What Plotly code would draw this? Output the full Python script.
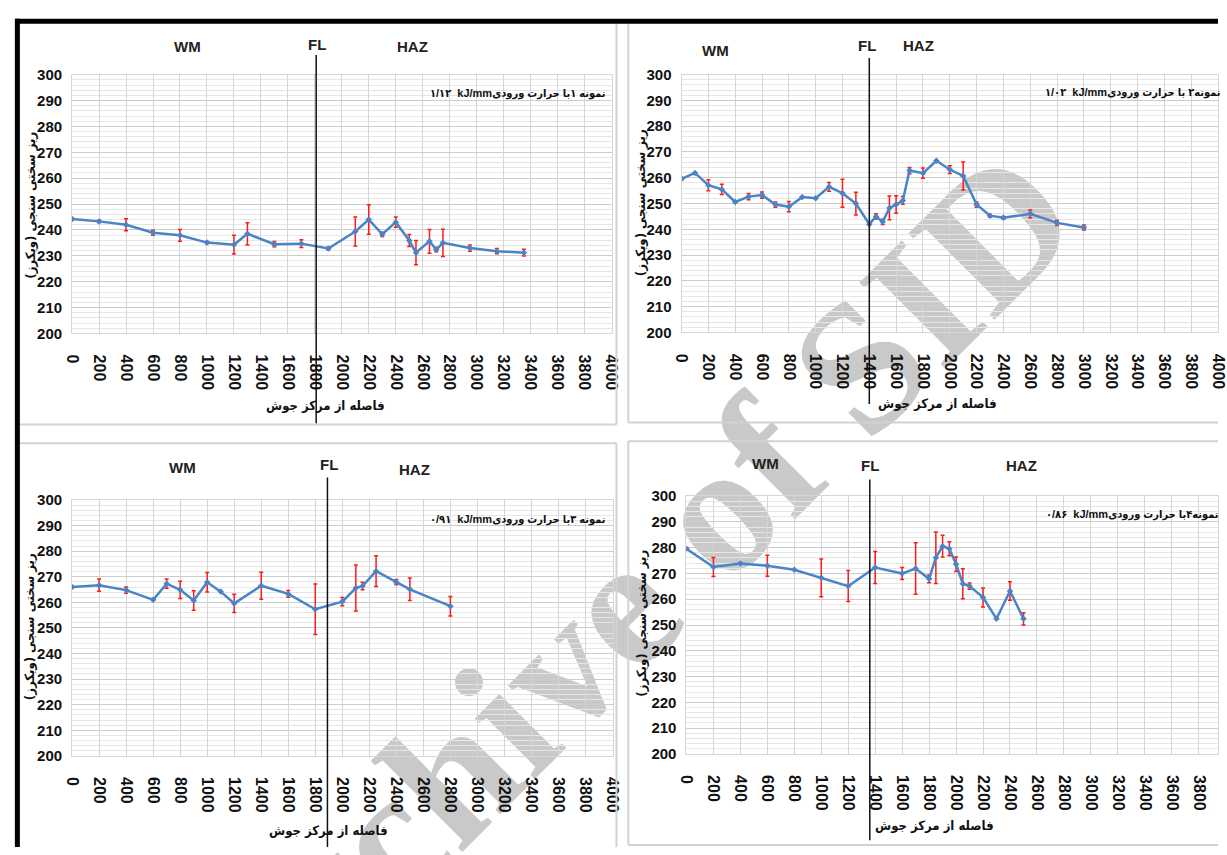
import plotly.graph_objects as go

W, H = 1227, 855

# ---------------- data ----------------
x_ticks = list(range(0, 4001, 200))
y_ticks = list(range(200, 301, 10))

p1_x = [0, 200, 400, 600, 800, 1000, 1200, 1300, 1500, 1700, 1900, 2100, 2200, 2300, 2400, 2500, 2550, 2650, 2700, 2750, 2950, 3150, 3350]
p1_y = [244.2, 243.3, 242, 238.9, 237.9, 235.1, 234.3, 238.5, 234.5, 234.7, 232.8, 239.4, 244, 238.3, 243, 235.9, 231.2, 235.6, 232.4, 235, 233, 231.8, 231.2]
p1_e = [0.4, 0.4, 2.3, 1, 2.3, 0.4, 3.6, 4.3, 1, 1.5, 0.5, 5.6, 5.7, 0.8, 2, 2.3, 4.7, 4.6, 0.8, 5.3, 1.2, 1, 1.3]

p2_x = [0, 100, 200, 300, 400, 500, 600, 700, 800, 900, 1000, 1100, 1200, 1300, 1400, 1450, 1500, 1550, 1600, 1650, 1700, 1800, 1900, 2000, 2100, 2200, 2300, 2400, 2600, 2800, 3000]
p2_y = [259.6, 261.9, 257.1, 255.5, 250.6, 252.7, 253.3, 249.6, 248.8, 252.5, 252.1, 256.5, 254, 250, 242, 245, 242.9, 248.3, 249.6, 251.2, 262.8, 261.8, 266.6, 263.2, 260.7, 249.6, 245.3, 244.5, 246, 242.5, 240.7]
p2_e = [0.5, 0, 2.1, 2, 0, 1.2, 1.2, 1, 2, 0, 0, 1.7, 5.4, 4.4, 0, 1, 1, 4.6, 3.4, 1.5, 1.2, 2, 0, 1.5, 5.4, 1, 0.5, 0.5, 1.5, 1, 1]

p3_x = [0, 200, 400, 600, 700, 800, 900, 1000, 1100, 1200, 1400, 1600, 1800, 2000, 2100, 2150, 2250, 2400, 2500, 2800]
p3_y = [266, 266.7, 264.8, 261, 267.3, 264.9, 260.7, 267.9, 264.2, 259.6, 266.5, 263.3, 257.3, 260.3, 265.6, 266.4, 272.2, 267.9, 265.1, 258.5]
p3_e = [0.5, 2.4, 1.2, 0, 1.8, 3.4, 3.8, 3.8, 0, 3.6, 5.3, 1.3, 9.9, 1.6, 9, 1.5, 6, 1, 4.4, 3.8]

p4_x = [0, 200, 400, 600, 800, 1000, 1200, 1400, 1600, 1700, 1800, 1850, 1900, 1950, 2000, 2050, 2100, 2200, 2300, 2400, 2500]
p4_y = [279.6, 272.5, 273.9, 273, 271.4, 268.3, 265.1, 272.3, 270, 271.9, 267.9, 276.1, 280.6, 279.6, 273.6, 266, 265.1, 260.7, 252.4, 263.2, 252.4]
p4_e = [0.5, 3.7, 0, 4.1, 0, 7.3, 6, 6.2, 2.3, 10, 1.5, 10, 4.2, 2.7, 2.8, 5.8, 1.2, 3.7, 0, 3.6, 2.4]

fl_positions = [1810, 1400, 1890, 1360]
captions = [
    "۱/۱۲  kJ/mm" + "نمونه ۱با حرارت ورودی",
    "۱/۰۲  kJ/mm" + "نمونه۲ با حرارت ورودی",
    "۰/۹۱  kJ/mm" + "نمونه ۳با حرارت ورودی",
    "۰/۸۶  kJ/mm" + "نمونه۴با حرارت ورودی",
]
x_title = "فاصله از مرکز جوش"
y_title = "\u200fریز سختی سنجی (ویکرز)\u200f"
zone_labels = ["WM", "FL", "HAZ"]

# ---------------- layout helpers ----------------
def fx(p):
    return p / W

def fy(p):
    return 1 - p / H

panels = [
    dict(x0=65, x1=612, xmax=4000, ytop=67, ybot=331),
    dict(x0=683, x1=1227, xmax=4000, ytop=67, ybot=330),
    dict(x0=65, x1=613, xmax=4000, ytop=501, ybot=762),
    dict(x0=688, x1=1227, xmax=3943, ytop=497, ybot=760),
]
series = [(p1_x, p1_y, p1_e), (p2_x, p2_y, p2_e), (p3_x, p3_y, p3_e), (p4_x, p4_y, p4_e)]

LINE = "#4a84c6"
GRID = "#d6d6d6"
MINOR = "#e6e6e6"
NARROW = "Liberation Sans Narrow, Arial Narrow, Liberation Sans"
PERS = "DejaVu Sans Condensed, DejaVu Sans"

fig = go.Figure()
layout = dict(
    width=W, height=H, margin=dict(l=0, r=0, t=0, b=0),
    paper_bgcolor="white", plot_bgcolor="white", showlegend=False,
)

for i, (pn, (xs, ys, es)) in enumerate(zip(panels, series)):
    n = "" if i == 0 else str(i + 1)
    layout["xaxis" + n] = dict(
        domain=[fx(pn["x0"]), fx(pn["x1"])], range=[0, pn["xmax"]], anchor="y" + n,
        tickvals=x_ticks, showgrid=True, gridcolor=GRID, gridwidth=1, zeroline=False,
        showline=True, linecolor=GRID, mirror=True,
        tickangle=90, ticks="outside", ticklen=17, tickcolor="rgba(0,0,0,0)",
        tickfont=dict(family="Liberation Sans, Arial", size=16, color="#111", weight="bold"),
    )
    layout["yaxis" + n] = dict(
        domain=[fy(pn["ybot"]), fy(pn["ytop"])], range=[200, 300], anchor="x" + n,
        tickvals=y_ticks, showgrid=True, gridcolor="#cccccc", gridwidth=1, zeroline=False,
        showline=True, linecolor=GRID, mirror=True,
        minor=dict(dtick=2, showgrid=True, gridcolor=MINOR, gridwidth=1),
        ticks="outside", ticklen=6, tickcolor="rgba(0,0,0,0)",
        tickfont=dict(family=NARROW, size=15, color="#111", weight="bold"),
    )
    fig.add_trace(go.Scatter(
        x=xs, y=ys, xaxis="x" + n, yaxis="y" + n, mode="lines+markers",
        line=dict(color=LINE, width=2.5),
        marker=dict(symbol="diamond", size=5, color=LINE),
        error_y=dict(type="data", array=es, visible=True, color="#ff1a1a", thickness=1.5, width=2),
    ))

fig.update_layout(**layout)

shapes = []
# watermark (below gridlines/traces)
shapes.append(dict(
    type="rect", xref="paper", yref="paper", layer="below",
    x0=fx(600), x1=fx(620), y0=fy(600), y1=fy(580),
    line=dict(width=0), fillcolor="rgba(0,0,0,0)",
    label=dict(text="Archive of SID", textangle=-45, textposition="middle center",
               font=dict(family="Liberation Serif, Times New Roman", size=186, color="#c9c9c9", weight="bold")),
))

fl_y = [(47, 423), (50, 403), (478, 855), (480, 848)]
for i, (xv, (ya, yb)) in enumerate(zip(fl_positions, fl_y)):
    n = "" if i == 0 else str(i + 1)
    shapes.append(dict(type="line", xref="x" + n, yref="paper", x0=xv, x1=xv,
                       y0=fy(yb), y1=fy(ya), line=dict(color="#111", width=1.5), layer="above"))

def seg(xa, ya, xb, yb, color, w):
    return dict(type="line", xref="paper", yref="paper", x0=fx(xa), y0=fy(ya), x1=fx(xb), y1=fy(yb),
                line=dict(color=color, width=w), layer="above")

BORDER = "#d2d2d2"
shapes += [
    seg(617, 15, 617, 424, BORDER, 2), seg(10, 424, 617, 424, BORDER, 2),
    seg(629, 15, 629, 422, BORDER, 2), seg(629, 422, 1227, 422, BORDER, 2),
    seg(10, 443, 617, 443, BORDER, 2), seg(617, 443, 617, 855, BORDER, 2),
    seg(629, 441, 1227, 441, BORDER, 2), seg(629, 441, 629, 853, BORDER, 2),
    seg(629, 853, 1227, 853, BORDER, 2),
    seg(7.5, 12.5, 1227, 12.5, "#000", 5), seg(9.5, 10, 9.5, 855, "#000", 5),
]
fig.update_layout(shapes=shapes)

ann = []
def add_text(x, y, text, font, xanchor="center", angle=0):
    ann.append(dict(x=fx(x), y=fy(y), xref="paper", yref="paper", text=text, showarrow=False,
                    xanchor=xanchor, yanchor="middle", textangle=angle, font=font))

zone_pos = [
    [(182, 38), (313, 36), (410, 38)],
    [(717, 42), (871, 37), (923, 37)],
    [(177, 468), (326, 465), (412, 470)],
    [(768, 464), (874, 466), (1028, 466)],
]
for pos in zone_pos:
    for lab, (x, y) in zip(zone_labels, pos):
        add_text(x, y, lab, dict(family=NARROW, size=15, color="#222", weight="bold"))

cap_pos = [(608, 86), (1232, 85), (608, 521), (1230, 516)]
for txt, (x, y) in zip(captions, cap_pos):
    add_text(x, y, txt, dict(family=NARROW + ", " + PERS, size=11, color="#111", weight="bold"), xanchor="right")

xt_pos = [(322, 405), (943, 403), (325, 838), (940, 833)]
for (x, y) in xt_pos:
    add_text(x, y, x_title, dict(family=PERS, size=13, color="#111", weight="bold"))

yt_pos = [(22, 200), (641, 198), (22, 630), (642, 627)]
for (x, y) in yt_pos:
    add_text(x, y, y_title, dict(family=PERS, size=13, color="#111", weight="bold"), angle=-90)

fig.update_layout(annotations=ann)
fig.write_html("out.html")
